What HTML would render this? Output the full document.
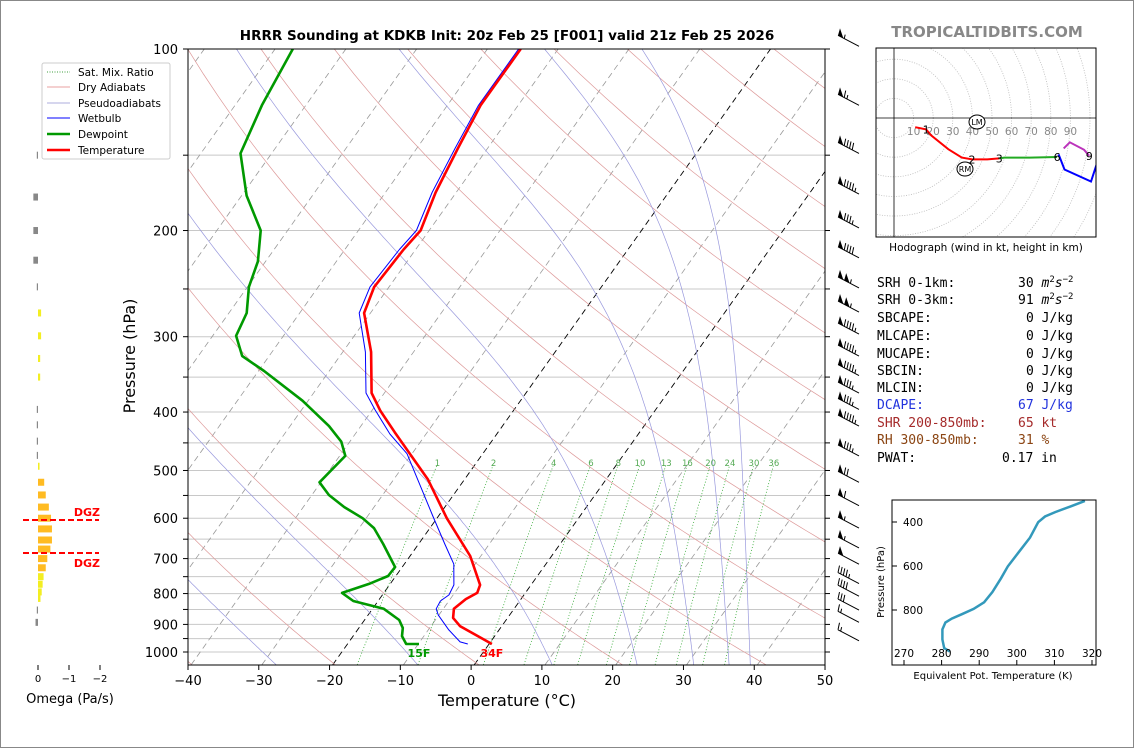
<!DOCTYPE html>
<html><head><meta charset="utf-8"><style>
html,body{margin:0;padding:0;background:#fff;}
svg{display:block;font-family:"DejaVu Sans","Liberation Sans",sans-serif;}
.mono{font-family:"DejaVu Sans Mono","Liberation Mono",monospace;font-size:13px;}
</style></head><body>
<svg id="fig" width="1134" height="748" viewBox="0 0 1134 748" xmlns="http://www.w3.org/2000/svg">
<rect x="0.5" y="0.5" width="1133" height="747" fill="#fff" stroke="#888"/>
<text x="507" y="40" text-anchor="middle" font-size="13.5" font-weight="bold">HRRR Sounding at KDKB Init: 20z Feb 25 [F001] valid 21z Feb 25 2026</text>
<text x="987" y="37" text-anchor="middle" font-size="15" font-weight="bold" fill="#888">TROPICALTIDBITS.COM</text>
<defs><clipPath id="skclip"><rect x="188" y="49" width="637" height="616"/></clipPath>
<clipPath id="hclip"><rect x="876" y="48" width="220" height="189"/></clipPath>
<clipPath id="tclip"><rect x="892" y="500" width="204" height="165"/></clipPath></defs>
<g id="bg" clip-path="url(#skclip)"></g>
<g id="prof" clip-path="url(#skclip)"></g>
<g id="axes"></g>
<g id="barbs"></g>
<g id="omega"></g>
<g id="hodo"></g>
<g id="thetae"></g>
<g id="legend">
<rect x="42" y="63" width="128" height="96" fill="#fff" stroke="#ccc" rx="2"/>
<line x1="47" y1="72" x2="70" y2="72" stroke="green" stroke-dasharray="1,1.5" stroke-width="0.8"/><text x="78" y="76" font-size="10.5">Sat. Mix. Ratio</text>
<line x1="47" y1="87" x2="70" y2="87" stroke="#e08080" stroke-width="0.8"/><text x="78" y="91" font-size="10.5">Dry Adiabats</text>
<line x1="47" y1="103" x2="70" y2="103" stroke="#9090d0" stroke-width="0.8"/><text x="78" y="107" font-size="10.5">Pseudoadiabats</text>
<line x1="47" y1="118" x2="70" y2="118" stroke="blue" stroke-width="1"/><text x="78" y="122" font-size="10.5">Wetbulb</text>
<line x1="47" y1="134" x2="70" y2="134" stroke="#009900" stroke-width="2.5"/><text x="78" y="138" font-size="10.5">Dewpoint</text>
<line x1="47" y1="150" x2="70" y2="150" stroke="red" stroke-width="2.5"/><text x="78" y="154" font-size="10.5">Temperature</text>
</g>
<g id="stats" class="mono">
<text x="877" y="287">SRH 0-1km:</text><text x="1018" y="287">30 <tspan font-style="italic">m</tspan><tspan font-size="9" dy="-5">2</tspan><tspan font-style="italic" dy="5">s</tspan><tspan font-size="9" dy="-5">−2</tspan></text>
<text x="877" y="304">SRH 0-3km:</text><text x="1018" y="304">91 <tspan font-style="italic">m</tspan><tspan font-size="9" dy="-5">2</tspan><tspan font-style="italic" dy="5">s</tspan><tspan font-size="9" dy="-5">−2</tspan></text>
<text x="877" y="322">SBCAPE:</text><text x="1026" y="322">0 J/kg</text>
<text x="877" y="340">MLCAPE:</text><text x="1026" y="340">0 J/kg</text>
<text x="877" y="358">MUCAPE:</text><text x="1026" y="358">0 J/kg</text>
<text x="877" y="375">SBCIN:</text><text x="1026" y="375">0 J/kg</text>
<text x="877" y="392">MLCIN:</text><text x="1026" y="392">0 J/kg</text>
<text x="877" y="409" fill="#2233dd">DCAPE:</text><text x="1018" y="409" fill="#2233dd">67 J/kg</text>
<text x="877" y="427" fill="#a52a2a">SHR 200-850mb:</text><text x="1018" y="427" fill="#a52a2a">65 kt</text>
<text x="877" y="444" fill="#8b4513">RH 300-850mb:</text><text x="1018" y="444" fill="#8b4513">31 %</text>
<text x="877" y="462">PWAT:</text><text x="1002" y="462">0.17 in</text>
</g>
</svg>
<script>
// ---------- DATA ----------
const tempP = [100,124,146,173,200,215,248,274,318,372,398,432,517,600,693,774,798,817,848,878,906,970];
const tempC = [-55.3,-55.3,-54.2,-52.9,-51.2,-51.7,-52.1,-50.9,-46.0,-41.8,-38.8,-34.6,-25.2,-18.6,-11.5,-7.2,-6.8,-7.8,-8.5,-7.7,-5.9,0.4];
const dewP = [100,124,149,175,200,225,248,274,299,323,342,383,422,448,473,523,549,575,600,623,662,723,748,771,798,823,848,885,912,941,970,970];
const dewC = [-87.5,-86.2,-84.4,-79.3,-73.8,-71.1,-69.8,-67.5,-66.7,-63.8,-59.2,-50.8,-44.5,-41.2,-39.2,-40.2,-37.6,-34.2,-30.5,-27.9,-25.0,-21.0,-21.1,-23.0,-25.9,-23.5,-18.4,-15.1,-13.8,-13.1,-11.7,-9.9];
const wbP = [100,124,146,173,200,215,248,274,318,372,396,435,469,595,662,715,774,804,823,848,868,919,962,970];
const wbC = [-55.6,-55.6,-54.6,-53.4,-51.8,-52.3,-52.7,-51.6,-46.8,-42.6,-39.7,-35.1,-30.7,-20.8,-16.3,-13.0,-10.9,-10.6,-11.2,-11.0,-10.1,-7.1,-4.3,-3.0];
const mixLabels = [1,2,4,6,8,10,13,16,20,24,30,36];
const moistStarts = [-48,-28,-8,11,23,31,36,39];
const isobars = [100,150,200,250,300,350,400,450,500,550,600,650,700,750,800,850,900,950,1000];
const pTicks = [100,200,300,400,500,600,700,800,900,1000];
const tTicks = [-40,-30,-20,-10,0,10,20,30,40,50];
const barbP = [99,124,149,174,198,222,249,273,297,323,348,372,396,422,473,523,572,623,672,715,770,808,852,893,958];
const barbKt = [55,65,90,95,85,90,105,105,95,95,95,85,85,95,85,70,60,55,55,50,45,40,30,15,15];
const omegaP = [150,176,200,224,248,274,299,326,350,396,420,447,472,492,523,549,575,600,625,652,675,700,725,750,772,795,815,852,893];
const omegaV = [0.02,0.15,0.15,0.15,0.02,-0.1,-0.1,-0.07,-0.07,0.03,0.02,0.02,0.01,-0.05,-0.2,-0.25,-0.35,-0.42,-0.45,-0.45,-0.4,-0.3,-0.25,-0.18,-0.15,-0.12,-0.08,0.03,0.08];
const hodoSeg1U = [10.8,16.4,19.0,27.7,34.6,39.8,47.6,53.7];
const hodoSeg1V = [-4.7,-5.8,-8.9,-15.9,-20.2,-21.1,-21.1,-20.6];
const hodoSeg2U = [53.7,56.3,69.3,83.2];
const hodoSeg2V = [-20.6,-20.2,-20.2,-19.9];
const hodoSeg3U = [84.0,87.0,100.5,103.6];
const hodoSeg3V = [-18.5,-26.3,-32.4,-22.9];
const hodoSeg4U = [86.6,89.7,97.0,99.6];
const hodoSeg4V = [-15.5,-12.4,-16.2,-19.3];
const thetaeP = [304,329,355,375,401,471,533,602,656,718,765,795,819,839,857,888,934,973,989];
const thetaeK = [318.1,314.3,310.2,307.5,305.7,303.5,300.7,297.6,295.8,293.5,291.3,288.5,285.4,282.7,281.0,280.2,280.2,280.7,282.2];
const thetaeTicksX = [270,280,290,300,310,320];
const thetaeTicksY = [400,600,800];

// ---------- helpers ----------
const NS='http://www.w3.org/2000/svg';
function mk(tag,parent){const e=document.createElementNS(NS,tag);parent.appendChild(e);return e;}
function Y(p){return 49+Math.log10(p/100)*603;}
function X(T,p){return 188+(T+40)*7.078+(665-Y(p))*0.711+3;}
function pathFrom(pts){return pts.map((q,i)=>(i?'L':'M')+q[0].toFixed(1)+','+q[1].toFixed(1)).join('');}
const bg=document.getElementById('bg'), prof=document.getElementById('prof'), axes=document.getElementById('axes');

// isobars
isobars.forEach(p=>{const l=mk('line',bg);


l.setAttribute('x1',188);l.setAttribute('x2',825);l.setAttribute('y1',Y(p));l.setAttribute('y2',Y(p));l.setAttribute('stroke','#c8c8c8');l.setAttribute('stroke-width','1');});
// isotherms
for(let T=-130;T<=50;T+=10){const l=mk('line',bg);


l.setAttribute('x1',X(T,1050));l.setAttribute('y1',Y(1050));l.setAttribute('x2',X(T,100));l.setAttribute('y2',Y(100));
const hl=(T===0||T===-20);l.setAttribute('stroke',hl?'#000':'#999');l.setAttribute('stroke-width',hl?0.9:0.8);l.setAttribute('stroke-dasharray','6,4');}
// dry adiabats
for(let th=230;th<=560;th+=20){const pts=[];for(let p=1050;p>=100;p-=10){pts.push([X(th*Math.pow(p/1000,0.286)-273.15,p),Y(p)]);}
const e=mk('path',bg);


e.setAttribute('d',pathFrom(pts));e.setAttribute('fill','none');e.setAttribute('stroke','#d99');e.setAttribute('stroke-width','0.7');}
// pseudoadiabats
function es(T){return 6.112*Math.exp(17.67*T/(T+243.5));}
function dTdp(T,p){const e=es(T-273.15);const rs=0.622*e/(p-e);const L=2.5e6,Rd=287,cp=1005;return (Rd*T+L*rs)/(p*(cp+L*L*rs*0.622/(Rd*T*T)));}
moistStarts.forEach(T0=>{let T=T0+273.15;const pts=[];
 for(let p=1050;p>=100;p-=5){pts.push([X(T-273.15,p),Y(p)]);T-=dTdp(T,p)*5;if(T<150)break;}
 const e=mk('path',bg);
 
 
 e.setAttribute('d',pathFrom(pts));e.setAttribute('fill','none');e.setAttribute('stroke','#9999dd');e.setAttribute('stroke-width','0.7');});
// mixing ratio lines
function tdw(w,p){const e=w*p/(622+w);const l=Math.log(e/6.112);return 243.5*l/(17.67-l);}
mixLabels.forEach(w=>{const pts=[];for(let p=1050;p>=490;p-=10)pts.push([X(tdw(w,p),p),Y(p)]);
const e=mk('path',bg);


e.setAttribute('d',pathFrom(pts));e.setAttribute('fill','none');e.setAttribute('stroke','#3a3');e.setAttribute('stroke-width','0.8');e.setAttribute('stroke-dasharray','1,2');
const t=mk('text',bg);


t.setAttribute('x',X(tdw(w,488),488));t.setAttribute('y',Y(488)+2);t.setAttribute('font-size','8.5');t.setAttribute('fill','#5a5');t.setAttribute('text-anchor','middle');t.textContent=w;});

// profiles
function prof_line(P,T,color,w,name){const e=mk('path',prof);


e.setAttribute('d',pathFrom(P.map((p,i)=>[X(T[i],p),Y(p)])));e.setAttribute('fill','none');e.setAttribute('stroke',color);e.setAttribute('stroke-width',w);e.setAttribute('stroke-linejoin','round');}
prof_line(dewP,dewC,'#009900',2.6,'dewpoint-line');
prof_line(wbP,wbC,'blue',1,'wetbulb-line');
prof_line(tempP,tempC,'red',2.6,'temperature-line');
{const t=mk('text',prof);


t.setAttribute('x',X(dewC[dewC.length-1],970));t.setAttribute('y',657);t.setAttribute('font-size','11');t.setAttribute('font-weight','bold');t.setAttribute('fill','#009900');t.setAttribute('text-anchor','middle');t.textContent='15F';
const u=mk('text',prof);


u.setAttribute('x',X(tempC[tempC.length-1],970));u.setAttribute('y',657);u.setAttribute('font-size','11');u.setAttribute('font-weight','bold');u.setAttribute('fill','red');u.setAttribute('text-anchor','middle');u.textContent='34F';}

// axes frame & ticks
{const r=mk('rect',axes);


r.setAttribute('x',188);r.setAttribute('y',49);r.setAttribute('width',637);r.setAttribute('height',616);r.setAttribute('fill','none');r.setAttribute('stroke','#000');r.setAttribute('stroke-width','1');}
tTicks.forEach(T=>{const x=188+(T+40)*7.078;const l=mk('line',axes);


l.setAttribute('x1',x);l.setAttribute('x2',x);l.setAttribute('y1',665);l.setAttribute('y2',670);l.setAttribute('stroke','#000');
const t=mk('text',axes);


t.setAttribute('x',x);t.setAttribute('y',685);t.setAttribute('font-size','13');t.setAttribute('text-anchor','middle');t.textContent=(T<0?'\u2212'+(-T):T);});
isobars.forEach(p=>{[[183,188],[825,830]].forEach(a=>{const l=mk('line',axes);


l.setAttribute('x1',a[0]);l.setAttribute('x2',a[1]);l.setAttribute('y1',Y(p));l.setAttribute('y2',Y(p));l.setAttribute('stroke','#000');});});
pTicks.forEach(p=>{const t=mk('text',axes);


t.setAttribute('x',178);t.setAttribute('y',Y(p)+5);t.setAttribute('font-size','13');t.setAttribute('text-anchor','end');t.textContent=p;});
{const t=mk('text',axes);


t.setAttribute('x',507);t.setAttribute('y',706);t.setAttribute('font-size','16');t.setAttribute('text-anchor','middle');t.textContent='Temperature (\u00B0C)';
const u=mk('text',axes);


u.setAttribute('transform','translate(135,356) rotate(-90)');u.setAttribute('font-size','16');u.setAttribute('text-anchor','middle');u.textContent='Pressure (hPa)';}

// wind barbs
const bb=document.getElementById('barbs');
barbP.forEach((p,i)=>{const y=Y(p);const g=mk('g',bb);


const x0=838,y0=y-11,x1=859,y1=y;const dx=(x1-x0)/Math.hypot(x1-x0,y1-y0),dy=(y1-y0)/Math.hypot(x1-x0,y1-y0);
let d='M'+x1+','+y1+'L'+x0+','+y0;let s=barbKt[i];let pos=0;let fill='';
while(s>=50){const ax=x0+dx*pos,ay=y0+dy*pos;fill+='M'+ax+','+ay+'L'+(ax+2)+','+(ay-7)+'L'+(ax+dx*6)+','+(ay+dy*6)+'Z';pos+=7;s-=50;}
while(s>=10){const ax=x0+dx*pos,ay=y0+dy*pos;d+='M'+ax+','+ay+'L'+(ax+1.5)+','+(ay-7);pos+=3;s-=10;}
if(s>=5){const ax=x0+dx*pos,ay=y0+dy*pos;d+='M'+ax+','+ay+'L'+(ax+1)+','+(ay-4);}
const e=mk('path',g);e.setAttribute('d',d);e.setAttribute('stroke','#000');e.setAttribute('fill','none');e.setAttribute('stroke-width','1');
if(fill){const f=mk('path',g);f.setAttribute('d',fill);f.setAttribute('fill','#000');}});

// omega panel
const om=document.getElementById('omega');
omegaP.forEach((p,i)=>{const v=omegaV[i];const r=mk('rect',om);


const w=Math.max(Math.abs(v)*31,1.2);const x=v<0?38:38-w;r.setAttribute('x',x);r.setAttribute('y',Y(p)-3.5);r.setAttribute('width',w);r.setAttribute('height',7);
r.setAttribute('fill',v>=0?'#888':(v<=-0.2?'#ffbb22':'#f3ee22'));});
[[0,'0'],[-1,'\u22121'],[-2,'\u22122']].forEach(a=>{const x=38-a[0]*31;const l=mk('line',om);


l.setAttribute('x1',x);l.setAttribute('x2',x);l.setAttribute('y1',665);l.setAttribute('y2',670);l.setAttribute('stroke','#000');
const t=mk('text',om);


t.setAttribute('x',x);t.setAttribute('y',682);t.setAttribute('font-size','10');t.setAttribute('text-anchor','middle');t.textContent=a[1];});
{const t=mk('text',om);


t.setAttribute('x',70);t.setAttribute('y',703);t.setAttribute('font-size','13');t.setAttribute('text-anchor','middle');t.textContent='Omega (Pa/s)';}
[[520,'DGZ',516],[553,'DGZ',567]].forEach(a=>{const l=mk('line',om);


l.setAttribute('x1',23);l.setAttribute('x2',99);l.setAttribute('y1',a[0]);l.setAttribute('y2',a[0]);l.setAttribute('stroke','red');l.setAttribute('stroke-width','2');l.setAttribute('stroke-dasharray','6,3');
const t=mk('text',om);


t.setAttribute('x',100);t.setAttribute('y',a[2]);t.setAttribute('font-size','11');t.setAttribute('font-weight','bold');t.setAttribute('fill','red');t.setAttribute('text-anchor','end');t.textContent=a[1];});

// hodograph
const hd=document.getElementById('hodo');
const HX=894,HY=118,HS=1.96;
const hg=mk('g',hd);hg.setAttribute('clip-path','url(#hclip)');
for(let r=10;r<=150;r+=10){const c=mk('circle',hg);


c.setAttribute('cx',HX);c.setAttribute('cy',HY);c.setAttribute('r',r*HS);c.setAttribute('fill','none');c.setAttribute('stroke','#bbb');c.setAttribute('stroke-width','0.8');c.setAttribute('stroke-dasharray','1,1.5');}
[[876,HY,1096,HY],[HX,48,HX,237]].forEach(a=>{const l=mk('line',hg);


l.setAttribute('x1',a[0]);l.setAttribute('y1',a[1]);l.setAttribute('x2',a[2]);l.setAttribute('y2',a[3]);l.setAttribute('stroke','#000');l.setAttribute('stroke-width','0.8');});
for(let k=10;k<=90;k+=10){const t=mk('text',hg);


t.setAttribute('x',HX+k*HS);t.setAttribute('y',135);t.setAttribute('font-size','10.5');t.setAttribute('fill','#888');t.setAttribute('text-anchor','middle');t.textContent=k;}
[[hodoSeg1U,hodoSeg1V,'red'],[hodoSeg2U,hodoSeg2V,'#22aa22'],[hodoSeg3U,hodoSeg3V,'blue'],[hodoSeg4U,hodoSeg4V,'#bb33bb']].forEach(s=>{const e=mk('path',hg);


e.setAttribute('d',pathFrom(s[0].map((u,i)=>[HX+u*HS,HY-s[1][i]*HS])));e.setAttribute('fill','none');e.setAttribute('stroke',s[2]);e.setAttribute('stroke-width','2');});
[[0,1,'1'],[0,5,'2'],[0,7,'3'],[1,3,'6'],[3,3,'9']].forEach(a=>{const seg=[hodoSeg1U,hodoSeg2U,hodoSeg3U,hodoSeg4U][a[0]];const sv=[hodoSeg1V,hodoSeg2V,hodoSeg3V,hodoSeg4V][a[0]];const t=mk('text',hg);


t.setAttribute('x',HX+seg[a[1]]*HS);t.setAttribute('y',HY-sv[a[1]]*HS+4);t.setAttribute('font-size','11');t.setAttribute('text-anchor','middle');t.textContent=a[2];});
[[977,122,'LM'],[965,169,'RM']].forEach(a=>{const c=mk('ellipse',hg);


c.setAttribute('cx',a[0]);c.setAttribute('cy',a[1]);c.setAttribute('rx',8);c.setAttribute('ry',7);c.setAttribute('fill','#fff');c.setAttribute('stroke','#000');
const t=mk('text',hg);t.setAttribute('x',a[0]);t.setAttribute('y',a[1]+3);t.setAttribute('font-size','8');t.setAttribute('text-anchor','middle');t.textContent=a[2];});
{const r=mk('rect',hd);


r.setAttribute('x',876);r.setAttribute('y',48);r.setAttribute('width',220);r.setAttribute('height',189);r.setAttribute('fill','none');r.setAttribute('stroke','#000');
const t=mk('text',hd);


t.setAttribute('x',986);t.setAttribute('y',251);t.setAttribute('font-size','10.5');t.setAttribute('text-anchor','middle');t.textContent='Hodograph (wind in kt, height in km)';}

// theta-e panel
const te=document.getElementById('thetae');
function TX(k){return 904+(k-270)*3.76;}
function TY(p){return 522+(p-400)*0.22;}
{const e=mk('path',te);


e.setAttribute('clip-path','url(#tclip)');
e.setAttribute('d',pathFrom(thetaeP.map((p,i)=>[TX(thetaeK[i]),TY(p)])));e.setAttribute('fill','none');e.setAttribute('stroke','#3399bb');e.setAttribute('stroke-width','2.5');
const r=mk('rect',te);


r.setAttribute('x',892);r.setAttribute('y',500);r.setAttribute('width',204);r.setAttribute('height',165);r.setAttribute('fill','none');r.setAttribute('stroke','#000');}
thetaeTicksX.forEach(k=>{const l=mk('line',te);


l.setAttribute('x1',TX(k));l.setAttribute('x2',TX(k));l.setAttribute('y1',665);l.setAttribute('y2',660);l.setAttribute('stroke','#000');
const t=mk('text',te);


t.setAttribute('x',TX(k));t.setAttribute('y',657);t.setAttribute('font-size','10.5');t.setAttribute('text-anchor','middle');t.textContent=k;});
thetaeTicksY.forEach(p=>{const l=mk('line',te);


l.setAttribute('x1',892);l.setAttribute('x2',897);l.setAttribute('y1',TY(p));l.setAttribute('y2',TY(p));l.setAttribute('stroke','#000');
const t=mk('text',te);


t.setAttribute('x',923);t.setAttribute('y',TY(p)+4);t.setAttribute('font-size','10.5');t.setAttribute('text-anchor','end');t.textContent=p;});
{const t=mk('text',te);


t.setAttribute('x',993);t.setAttribute('y',679);t.setAttribute('font-size','10');t.setAttribute('text-anchor','middle');t.textContent='Equivalent Pot. Temperature (K)';
const u=mk('text',te);


u.setAttribute('transform','translate(884,582) rotate(-90)');u.setAttribute('font-size','10');u.setAttribute('text-anchor','middle');u.textContent='Pressure (hPa)';}
</script>
</body></html>
